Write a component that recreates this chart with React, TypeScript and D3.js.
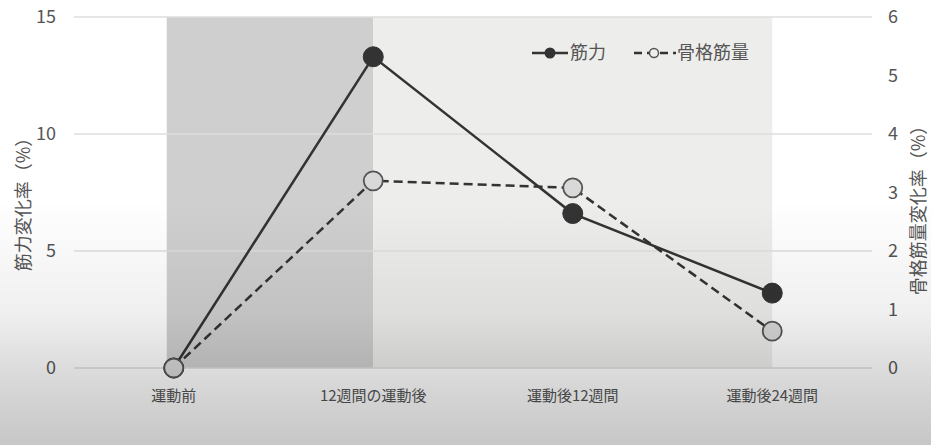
import React from "react";
import * as d3 from "d3";

const categories = ["運動前", "12週間の運動後", "運動後12週間", "運動後24週間"];
const strength = [0, 13.3, 6.6, 3.2];
const muscleMass = [0, 3.2, 3.08, 0.63];
const leftTicks = [0, 5, 10, 15];
const rightTicks = [0, 1, 2, 3, 4, 5, 6];
const seriesNames = ["筋力", "骨格筋量"];
const leftLabel = "筋力変化率（%）";
const rightLabel = "骨格筋量変化率（%）";

const W = 931;
const H = 445;
const FONT = "'Noto Sans CJK JP', 'Noto Sans', sans-serif";

export default function App() {
  const x = d3.scaleBand<string>().domain(categories).range([74, 872]).padding(0);
  const cx = (c: string) => (x(c) ?? 0) + x.bandwidth() / 2;
  const yL = d3.scaleLinear().domain([0, 15]).range([368, 17]);
  const yR = d3.scaleLinear().domain([0, 6]).range([368, 17]);

  const lineL = d3
    .line<number>()
    .x((_, i) => cx(categories[i]))
    .y((d) => yL(d));
  const lineR = d3
    .line<number>()
    .x((_, i) => cx(categories[i]))
    .y((d) => yR(d));

  const darkX0 = cx(categories[0]) - 7;
  const darkX1 = cx(categories[1]);
  const lightX1 = cx(categories[3]);

  return (
    <svg
      width={W}
      height={H}
      style={{ position: "absolute", left: 0, top: 0, display: "block" }}
      fontFamily={FONT}
    >
      <defs>
        <linearGradient id="shade" x1="0" y1="0" x2="0" y2="1">
          <stop offset="0" stopColor="#000" stopOpacity="0" />
          <stop offset="0.45" stopColor="#000" stopOpacity="0" />
          <stop offset="0.7" stopColor="#000" stopOpacity="0.06" />
          <stop offset="0.85" stopColor="#000" stopOpacity="0.15" />
          <stop offset="1" stopColor="#000" stopOpacity="0.22" />
        </linearGradient>
      </defs>
      <rect x={0} y={0} width={W} height={H} fill="#ffffff" />
      {/* shaded periods */}
      <rect x={darkX0} y={yL(15)} width={darkX1 - darkX0} height={yL(0) - yL(15)} fill="#cfcfcf" />
      <rect x={darkX1} y={yL(15)} width={lightX1 - darkX1} height={yL(0) - yL(15)} fill="#ededeb" />
      {/* gridlines */}
      {leftTicks.map((t) => (
        <line key={t} x1={74} x2={872} y1={yL(t)} y2={yL(t)} stroke="#dedede" strokeWidth={1.5} />
      ))}
      {/* left ticks */}
      {leftTicks.map((t) => (
        <text key={t} x={56} y={yL(t)} dy="0.35em" textAnchor="end" fontSize={18} fill="#555">
          {t}
        </text>
      ))}
      {/* right ticks */}
      {rightTicks.map((t) => (
        <text key={t} x={888} y={yR(t)} dy="0.35em" textAnchor="start" fontSize={18} fill="#555">
          {t}
        </text>
      ))}
      {/* axis titles */}
      <text
        transform={`translate(24,200) rotate(-90)`}
        textAnchor="middle"
        dy="0.35em"
        fontSize={18}
        fill="#555"
      >
        {leftLabel}
      </text>
      <text
        transform={`translate(919,206) rotate(-90)`}
        textAnchor="middle"
        dy="0.33em"
        fontSize={18}
        fill="#555"
      >
        {rightLabel}
      </text>
      {/* x labels */}
      {categories.map((c) => (
        <text key={c} x={cx(c)} y={396} textAnchor="middle" dy="0.35em" fontSize={15} fill="#555">
          {c}
        </text>
      ))}
      {/* lines */}
      <path d={lineL(strength) ?? ""} fill="none" stroke="#333" strokeWidth={2.5} />
      <path
        d={lineR(muscleMass) ?? ""}
        fill="none"
        stroke="#333"
        strokeWidth={2.5}
        strokeDasharray="9 5"
      />
      {/* markers */}
      {strength.map((v, i) => (
        <circle key={"s" + i} cx={cx(categories[i])} cy={yL(v)} r={10} fill="#333" stroke="#333" strokeWidth={1} />
      ))}
      {muscleMass.map((v, i) => (
        <circle
          key={"m" + i}
          cx={cx(categories[i])}
          cy={yR(v)}
          r={9.5}
          fill="#d9d9d9"
          stroke="#555"
          strokeWidth={1.8}
        />
      ))}
      {/* legend */}
      <g>
        <line x1={532} x2={568} y1={53} y2={53} stroke="#333" strokeWidth={2.5} />
        <circle cx={550} cy={53} r={5.5} fill="#333" />
        <text x={570} y={53} dy="0.35em" fontSize={18} fill="#555">
          {seriesNames[0]}
        </text>
        <line x1={634} x2={676} y1={53} y2={53} stroke="#333" strokeWidth={2.5} strokeDasharray="8 5" />
        <circle cx={654} cy={53} r={4.5} fill="#eee" stroke="#555" strokeWidth={1.5} />
        <text x={677} y={53} dy="0.35em" fontSize={18} fill="#555">
          {seriesNames[1]}
        </text>
      </g>
      <rect x={0} y={0} width={W} height={H} fill="url(#shade)" pointerEvents="none" />
    </svg>
  );
}
